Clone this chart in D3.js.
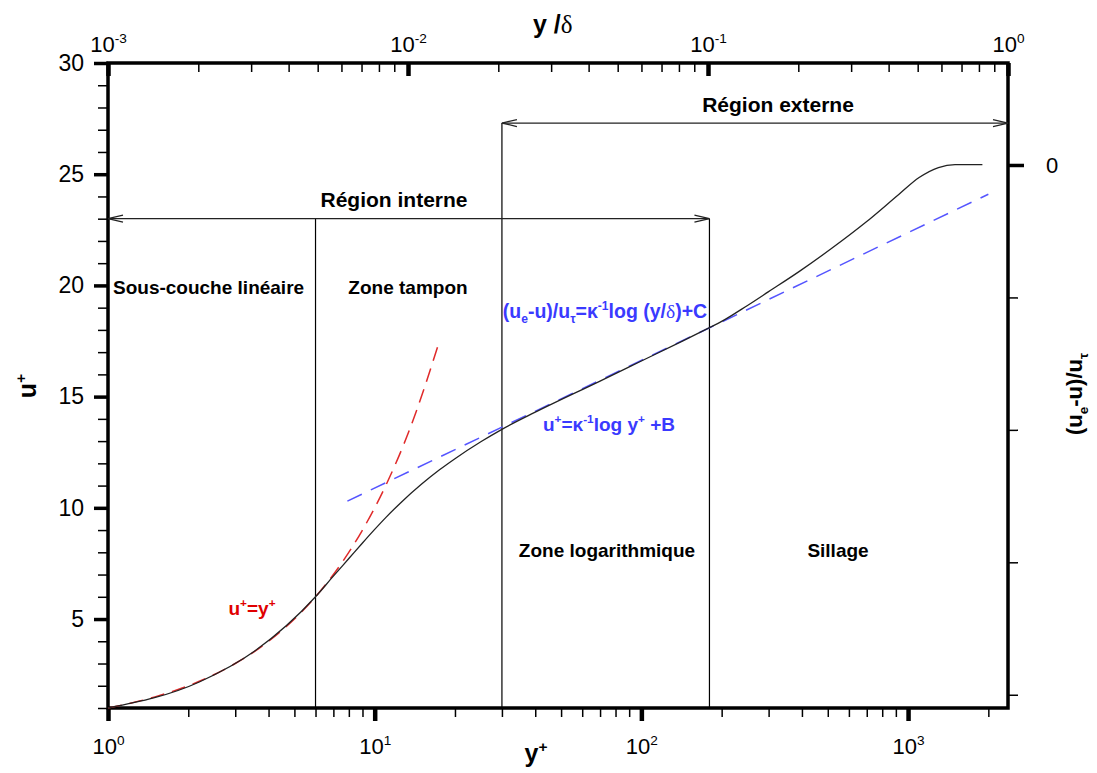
<!DOCTYPE html>
<html>
<head>
<meta charset="utf-8">
<script src="https://cdn.jsdelivr.net/npm/d3@7"></script>
<style>
  body { margin: 0; background: #fff; }
  text { font-family: "Liberation Sans", Arial, sans-serif; }
</style>
</head>
<body>
<div id="chart"></div>
<script>
// velocity profile u+ against y+
const profileYp = [1, 2.2, 3.55, 6, 7, 8, 9, 10, 11, 12.5, 15, 17.5, 20, 25, 30, 40, 70, 100, 140, 180, 200, 250, 300, 390, 519, 696, 925, 1100, 1300, 1500, 1900];
const profileU  = [1, 2.17, 3.56, 6.0, 6.93, 7.72, 8.42, 9.03, 9.56, 10.22, 11.07, 11.71, 12.21, 12.97, 13.53, 14.3, 15.7, 16.6, 17.45, 18.1, 18.38, 19.1, 19.72, 20.62, 21.68, 22.85, 24.1, 24.85, 25.3, 25.43, 25.43];

// viscous sublayer u+ = y+
const linearYp = [1, 1.5, 2.2, 3, 3.55, 4.5, 6, 7.5, 9, 11, 13.5, 17.5];
const linearU  = [1, 1.5, 2.2, 3, 3.55, 4.5, 6, 7.5, 9, 11, 13.5, 17.5];

// log law (straight in semi-log)
const logLawYp = [7.9, 2000];
const logLawU  = [10.3, 24.1];

// zone boundaries (y+) and height where they stop (u+)
const boundaryYp  = [6, 30, 180];
const boundaryTop = [23, 27.3, 23];

// axes
const yPlusDomain = [1, 2370];
const yDeltaDomain = [1e-3, 1];
const uDomain = [1, 30];
const uMajor = [5, 10, 15, 20, 25, 30];
const rightDomain = [-20.5, 3.85];
const rightTicks = [0, -5, -10, -15, -20];

const margin = { top: 63, right: 89, bottom: 65, left: 108 },
    width = 1097 - margin.left - margin.right,
    height = 773 - margin.top - margin.bottom;

const svg = d3.select("#chart")
    .append("svg")
    .attr("width", 1097)
    .attr("height", 773);

const g = svg.append("g")
    .attr("transform", "translate(" + margin.left + "," + margin.top + ")");

const x = d3.scaleLog().domain(yPlusDomain).range([0, width]);
const xTop = d3.scaleLog().domain(yDeltaDomain).range([0, width]);
const y = d3.scaleLinear().domain(uDomain).range([height, 0]);
const yRight = d3.scaleLinear().domain(rightDomain).range([height, 0]);

// text with sub/superscripts; parts = [[text, "sup"|"sub"|"serif"]]
function rich(sel, parts, size) {
    let shift = 0;
    parts.forEach(p => {
        const kind = p[1];
        const target = kind === "sup" ? -0.42 * size : kind === "sub" ? 0.28 * size : 0;
        const ts = sel.append("tspan")
            .text(p[0])
            .attr("dy", target - shift)
            .attr("font-size", (kind === "sup" || kind === "sub") ? size * 0.62 : size);
        if (kind === "serif") ts.attr("font-family", "Liberation Serif, serif").attr("font-weight", "normal");
        shift = target;
    });
    return sel;
}

function decadeTicks(lo, hi) {
    const major = [], minor = [];
    for (let e = Math.floor(Math.log10(lo)); e <= Math.ceil(Math.log10(hi)); e++) {
        for (let m = 1; m < 10; m++) {
            const v = m * Math.pow(10, e);
            if (v < lo * 0.999 || v > hi * 1.001) continue;
            (m === 1 ? major : minor).push(v);
        }
    }
    return { major, minor };
}

function styleAxis(sel, w) {
    sel.select(".domain").remove();
    sel.selectAll(".tick line").attr("stroke", "#000").attr("stroke-width", w);
}

// bottom axis y+
const bt = decadeTicks(yPlusDomain[0], yPlusDomain[1]);
g.append("g").attr("transform", "translate(0," + height + ")")
    .call(d3.axisBottom(x).tickValues(bt.minor).tickSize(9).tickFormat(""))
    .call(s => styleAxis(s, 1.5));
g.append("g").attr("transform", "translate(0," + height + ")")
    .call(d3.axisBottom(x).tickValues(bt.major).tickSize(13).tickFormat(""))
    .call(s => styleAxis(s, 4.5))
    .selectAll(".tick text")
    .attr("fill", "#000")
    .attr("y", 46)
    .each(function (d) {
        rich(d3.select(this), [["10"], [String(Math.round(Math.log10(d))), "sup"]], 22);
    });

// top axis y/delta, ticks pointing in
const tt = decadeTicks(yDeltaDomain[0], yDeltaDomain[1]);
g.append("g")
    .call(d3.axisTop(xTop).tickValues(tt.minor).tickSize(-9).tickFormat(""))
    .call(s => styleAxis(s, 1.5));
g.append("g")
    .call(d3.axisTop(xTop).tickValues(tt.major).tickSize(-13).tickPadding(11).tickFormat(""))
    .call(s => styleAxis(s, 4.5))
    .selectAll(".tick text")
    .attr("fill", "#000")
    .each(function (d) {
        rich(d3.select(this), [["10"], [String(Math.round(Math.log10(d))), "sup"]], 22);
    });

// left axis u+
const uMinor = d3.range(1, 30).filter(v => v % 5 !== 0);
g.append("g")
    .call(d3.axisLeft(y).tickValues(uMinor).tickSize(10).tickFormat(""))
    .call(s => styleAxis(s, 1.5));
g.append("g")
    .call(d3.axisLeft(y).tickValues(uMajor).tickSize(14).tickPadding(10))
    .call(s => styleAxis(s, 3.5))
    .selectAll(".tick text")
    .attr("fill", "#000")
    .attr("font-size", 23);

// right axis (ue-u)/utau
g.append("g").attr("transform", "translate(" + width + ",0)")
    .call(d3.axisRight(yRight).tickValues(rightTicks.slice(1)).tickSize(10).tickFormat(""))
    .call(s => styleAxis(s, 1.5));
g.append("g").attr("transform", "translate(" + width + ",0)")
    .call(d3.axisRight(yRight).tickValues([rightTicks[0]]).tickSize(16).tickPadding(22))
    .call(s => styleAxis(s, 3.5))
    .selectAll(".tick text")
    .attr("fill", "#000")
    .attr("font-size", 22);

// frame
g.append("rect")
    .attr("width", width)
    .attr("height", height)
    .attr("fill", "none")
    .attr("stroke", "#000")
    .attr("stroke-width", 3.5);

// zone boundaries
g.selectAll(".boundary")
    .data(d3.zip(boundaryYp, boundaryTop))
    .enter()
    .append("line")
    .attr("x1", d => x(d[0]))
    .attr("x2", d => x(d[0]))
    .attr("y1", y(uDomain[0]))
    .attr("y2", d => y(d[1]))
    .attr("stroke", "#000")
    .attr("stroke-width", 1.2);

// double arrows for the regions
function arrow(x1, x2, yy) {
    const a = g.append("g").attr("stroke", "#222").attr("stroke-width", 1.2).attr("fill", "none");
    a.append("line").attr("x1", x1).attr("x2", x2).attr("y1", yy).attr("y2", yy);
    a.append("path").attr("d", "M" + (x1 + 15) + "," + (yy - 3.5) + "L" + x1 + "," + yy + "L" + (x1 + 15) + "," + (yy + 3.5));
    a.append("path").attr("d", "M" + (x2 - 15) + "," + (yy - 3.5) + "L" + x2 + "," + yy + "L" + (x2 - 15) + "," + (yy + 3.5));
}
arrow(x(yPlusDomain[0]), x(boundaryYp[2]), y(boundaryTop[0]));
arrow(x(boundaryYp[1]), x(yPlusDomain[1]), y(boundaryTop[1]));

const line = d3.line()
    .x(d => x(d[0]))
    .y(d => y(d[1]));

// red dashed u+ = y+
g.append("path")
    .datum(d3.zip(linearYp, linearU))
    .attr("d", line.curve(d3.curveMonotoneX))
    .attr("fill", "none")
    .attr("stroke", "#e02a2a")
    .attr("stroke-width", 1.5)
    .attr("stroke-dasharray", "14,8");

// blue dashed log law
g.append("path")
    .datum(d3.zip(logLawYp, logLawU))
    .attr("d", line.curve(d3.curveLinear))
    .attr("fill", "none")
    .attr("stroke", "#5555ff")
    .attr("stroke-width", 1.5)
    .attr("stroke-dasharray", "16,10");

// the profile
g.append("path")
    .datum(d3.zip(profileYp, profileU))
    .attr("d", line.curve(d3.curveMonotoneX))
    .attr("fill", "none")
    .attr("stroke", "#222")
    .attr("stroke-width", 1.3);

// labels inside the plot (absolute page coords)
function label(px, py, parts, size, color, anchor) {
    const t = svg.append("text")
        .attr("x", px)
        .attr("y", py)
        .attr("font-weight", "bold")
        .attr("fill", color || "#000")
        .attr("text-anchor", anchor || "start");
    return rich(t, parts, size);
}

label(394, 207, [["Région interne"]], 21, "#000", "middle");
label(778, 112, [["Région externe"]], 21, "#000", "middle");
label(113, 294, [["Sous-couche linéaire"]], 19);
label(408, 294, [["Zone tampon"]], 19, "#000", "middle");
label(607, 557, [["Zone logarithmique"]], 19, "#000", "middle");
label(838, 557, [["Sillage"]], 19, "#000", "middle");
label(252, 615, [["u"], ["+", "sup"], ["=y"], ["+", "sup"]], 19, "#e00000", "middle");
label(605, 318, [["(u"], ["e", "sub"], ["-u)/u"], ["τ", "sub"], ["=κ"], ["-1", "sup"], ["log (y/"], ["δ", "serif"], [")+C"]], 19.5, "#3a3aff", "middle");
label(609, 431, [["u"], ["+", "sup"], ["=κ"], ["-1", "sup"], ["log y"], ["+", "sup"], [" +B"]], 19, "#3a3aff", "middle");

// axis titles
label(533, 33, [["y /"], ["δ", "serif"]], 25);
label(536, 762, [["y"], ["+", "sup"]], 25, "#000", "middle");

svg.append("text")
    .attr("transform", "translate(36,386) rotate(-90)")
    .attr("text-anchor", "middle")
    .attr("font-weight", "bold")
    .call(t => rich(t, [["u"], ["+", "sup"]], 25));

svg.append("text")
    .attr("transform", "translate(1082,394) rotate(-90)")
    .attr("text-anchor", "middle")
    .attr("font-weight", "bold")
    .call(t => rich(t, [["(u"], ["e", "sub"], ["-u)/u"], ["τ", "sub"]], 22));
</script>
</body>
</html>
